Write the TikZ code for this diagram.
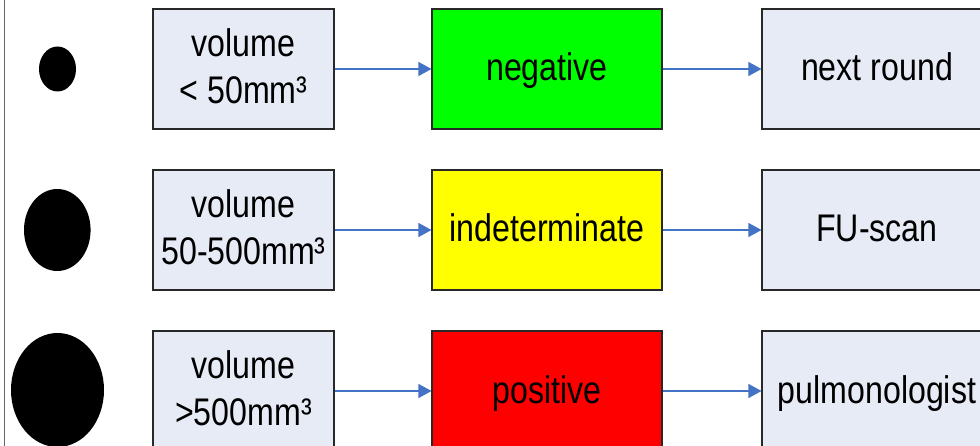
\documentclass[tikz,border=0pt]{standalone}
\usepackage{fontspec}
\setmainfont[FakeStretch=0.835]{Liberation Sans}
\usetikzlibrary{arrows.meta}
\definecolor{boxfill}{RGB}{230,235,246}
\definecolor{boxline}{RGB}{40,40,40}
\definecolor{arrowblue}{RGB}{68,114,196}
\definecolor{negfill}{RGB}{0,255,0}
\definecolor{indfill}{RGB}{255,255,0}
\definecolor{posfill}{RGB}{255,0,0}
\begin{document}
\begin{tikzpicture}[x=1pt,y=-1pt,
  card/.style={draw=boxline, line width=1.1pt, inner sep=0pt,
    minimum height=120pt, align=center,
    font=\fontsize{38.5}{46.6}\selectfont},
  onel/.style={text height=27pt, text depth=3pt},
  twol/.style={text height=75.6pt, text depth=7pt},
  sizebox/.style={card, twol, fill=boxfill, minimum width=181pt},
  resultbox/.style={card, onel, minimum width=230pt},
  actionbox/.style={card, onel, fill=boxfill, minimum width=230pt},
  flow/.style={draw=arrowblue, line width=1.1pt,
    -{Triangle[length=13pt,width=14pt]}},
  nodule/.style={fill=black}
]
\clip (0,0) rectangle (980,446);

% left margin rule
\draw[gray!80!black, line width=1pt] (4.5,0) -- (4.5,446);

% nodule sizes
\fill[nodule] (57.5,69) ellipse [x radius=18.5, y radius=22.5];
\fill[nodule] (57.3,230) ellipse [x radius=33.3, y radius=41];
\fill[nodule] (57.5,390) ellipse [x radius=46.5, y radius=57];

% row 1
\node[sizebox] (s1) at (243.5,69) {volume\\< 50mm³};
\node[resultbox, fill=negfill] (r1) at (547,69) {negative};
\node[actionbox] (a1) at (877,69) {next round};

% row 2
\node[sizebox] (s2) at (243.5,230) {volume\\50-500mm³};
\node[resultbox, fill=indfill] (r2) at (547,230) {indeterminate};
\node[actionbox] (a2) at (877,230) {FU-scan};

% row 3
\node[sizebox] (s3) at (243.5,391) {volume\\>500mm³};
\node[resultbox, fill=posfill] (r3) at (547,391) {positive};
\node[actionbox] (a3) at (877,391) {pulmonologist};

% connectors
\foreach \i in {1,2,3} {
  \draw[flow] (s\i) -- (r\i);
  \draw[flow] (r\i) -- (a\i);
}
\end{tikzpicture}
\end{document}
